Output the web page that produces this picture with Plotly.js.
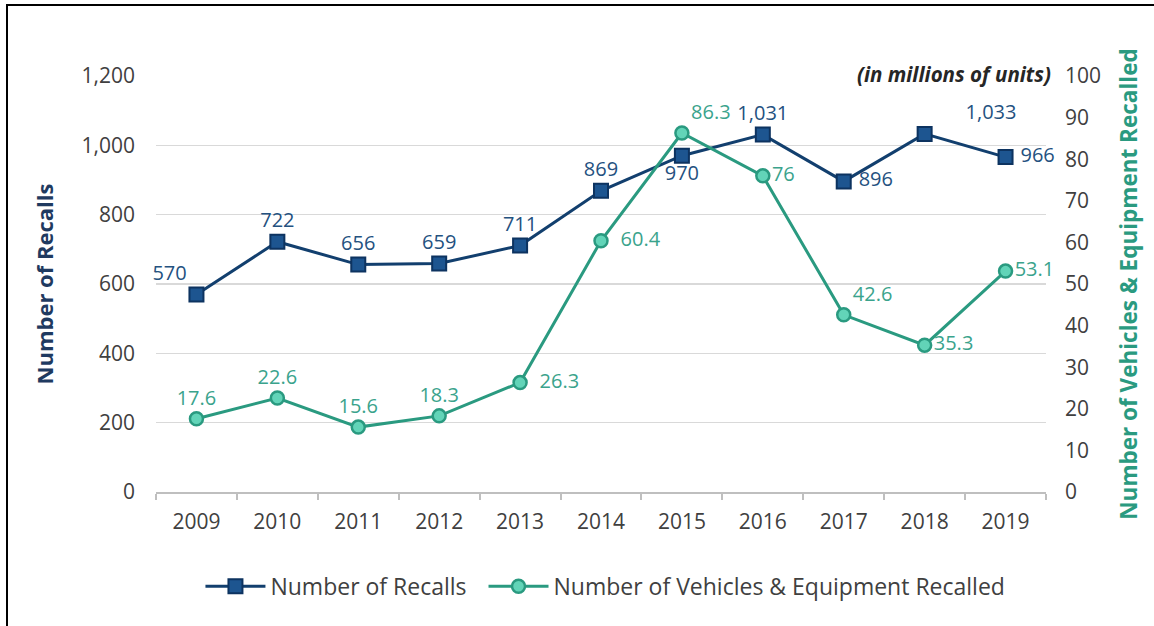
<!DOCTYPE html>
<html>
<head>
<meta charset="utf-8">
<script src="https://cdn.plot.ly/plotly-3.0.1.min.js"></script>
<style>
  html, body { margin: 0; padding: 0; background: #fff; }
  #wrap { position: relative; width: 1154px; height: 626px; }
  #chart { width: 1154px; height: 626px; }
  #frame { position: absolute; left: 6px; top: 4px; right: -10px; bottom: -10px;
           border-left: 2px solid #000; border-top: 2px solid #000; pointer-events: none; }
</style>
</head>
<body>
<div id="wrap">
  <div id="chart"></div>
  <div id="frame"></div>
</div>
<script>
const years = ["2009","2010","2011","2012","2013","2014","2015","2016","2017","2018","2019"];
const recalls = [570, 722, 656, 659, 711, 869, 970, 1031, 896, 1033, 966];
const unitsRecalled = [17.6, 22.6, 15.6, 18.3, 26.3, 60.4, 86.3, 76, 42.6, 35.3, 53.1];
const recallLabels = ["570","722","656","659","711","869","970","1,031","896","1,033","966"];
const unitLabels = ["17.6","22.6","15.6","18.3","26.3","60.4","86.3","76","42.6","35.3","53.1"];
const recallLabelPos = ["top left","top center","top center","top center","top center","top center","bottom center","top center","middle right","top right","middle right"];
const unitLabelPos = ["top center","top center","top center","top center","middle right","middle right","top right","middle right","top right","middle right","middle right"];
// extra horizontal gap (in spaces) before labels placed to the right of a marker
const recallLabelGap = [0,0,0,0,0,0,0,0,1,6,1];
const unitLabelGap = [0,0,0,0,2,2,0,0,0,0,0];
const leftTicks = [0, 200, 400, 600, 800, 1000, 1200];
const rightTicks = [0, 10, 20, 30, 40, 50, 60, 70, 80, 90, 100];

const FONT = "Open Sans, Liberation Sans, Arial, sans-serif";
const NAVY = "#123f6e";
const TEAL = "#2a9a80";

function pad(labels, gaps) {
  return labels.map((t, i) => "\u00a0".repeat(gaps[i]) + t);
}

const traces = [
  {
    x: years, y: recalls, name: "Number of Recalls\u00a0\u00a0", type: "scatter",
    mode: "lines+markers+text",
    line: { color: NAVY, width: 3 },
    marker: { symbol: "square", size: 14, color: "#1d5590", line: { color: "#0d3360", width: 2 } },
    text: pad(recallLabels, recallLabelGap), textposition: recallLabelPos,
    textfont: { family: FONT, size: 20, color: "#24517f" },
    cliponaxis: false, hoverinfo: "x+y"
  },
  {
    x: years, y: unitsRecalled, name: "Number of Vehicles & Equipment Recalled", type: "scatter",
    mode: "lines+markers+text", yaxis: "y2",
    line: { color: TEAL, width: 3 },
    marker: { symbol: "circle", size: 13, color: "#62d4b8", line: { color: TEAL, width: 2.5 } },
    text: pad(unitLabels, unitLabelGap), textposition: unitLabelPos,
    textfont: { family: FONT, size: 20, color: "#3aa38c" },
    cliponaxis: false, hoverinfo: "x+y"
  }
];

const layout = {
  width: 1154, height: 626,
  margin: { l: 156, r: 108, t: 76, b: 134 },
  paper_bgcolor: "#fff", plot_bgcolor: "#fff",
  font: { family: FONT, size: 21, color: "#404040" },
  showlegend: true,
  legend: {
    orientation: "h", x: 0.505, xanchor: "center", y: -0.175, yanchor: "top",
    font: { family: FONT, size: 23, color: "#404040" }, itemwidth: 60,
    traceorder: "normal"
  },
  xaxis: {
    type: "category", range: [-0.5, 10.5],
    showline: true, linecolor: "#bfbfbf", linewidth: 2,
    ticks: "outside", tickson: "boundaries", ticklen: 6, tickcolor: "#bfbfbf", tickwidth: 2,
    showgrid: false, zeroline: false, ticklabelstandoff: 10,
    tickfont: { family: FONT, size: 21, color: "#404040" }
  },
  yaxis: {
    range: [0, 1200], tickvals: leftTicks, tickformat: ",d",
    showgrid: true, gridcolor: "#d9d9d9", gridwidth: 1.5, zeroline: false, showline: false,
    ticks: "", ticklabelstandoff: 20,
    tickfont: { family: FONT, size: 21, color: "#404040" },
    title: { text: "Number of Recalls", font: { family: FONT, size: 22, color: "#1f3a60", weight: "bold" }, standoff: 21 }
  },
  yaxis2: {
    range: [0, 100], tickvals: rightTicks, overlaying: "y", side: "right",
    showgrid: false, zeroline: false, showline: false,
    ticks: "", ticklabelstandoff: 18,
    tickfont: { family: FONT, size: 21, color: "#404040" },
    title: { text: "Number of Vehicles & Equipment Recalled", font: { family: FONT, size: 22.5, color: TEAL, weight: "bold" }, standoff: 21 }
  },
  annotations: [
    {
      xref: "paper", yref: "paper", x: 1.008, y: 1.005, xanchor: "right", yanchor: "middle",
      text: "<b><i>(in millions of units)</i></b>", showarrow: false,
      font: { family: FONT, size: 20.5, color: "#262626" }, bgcolor: "#fff"
    }
  ]
};

Plotly.newPlot("chart", traces, layout, { displayModeBar: false, staticPlot: true });
</script>
</body>
</html>
